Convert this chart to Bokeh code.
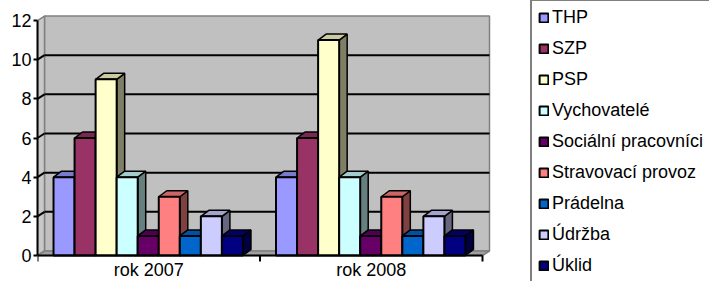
from bokeh.plotting import figure
from bokeh.models import LinearAxis, FixedTicker, Legend, LegendItem, Range1d
from bokeh.core.properties import value
from bokeh.embed import file_html
from bokeh.resources import INLINE

# ---- data ----
categories = ["rok 2007", "rok 2008"]
series = ["THP", "SZP", "PSP", "Vychovatelé", "Sociální pracovníci",
          "Stravovací provoz", "Prádelna", "Údržba", "Úklid"]
values_2007 = [4, 6, 9, 4, 1, 3, 1, 2, 1]
values_2008 = [4, 6, 11, 4, 1, 3, 1, 2, 1]
colors = ["#9999FF", "#993366", "#FFFFCC", "#CCFFFF", "#660066",
          "#FF8080", "#0066CC", "#CCCCFF", "#000080"]
y_ticks = [0, 2, 4, 6, 8, 10, 12]

values = [values_2007, values_2008]

# ---- layout constants ----
W, H = 709, 281
LEFT = 37
ZERO_PX = 255          # canvas row of value 0
PX_X = 222.5
PX_Y = 19.58
X_END = (W - LEFT) / PX_X
Y_START = -(H - ZERO_PX) / PX_Y
Y_END = ZERO_PX / PX_Y
bar_dx, bar_dy = 8 / PX_X, 6 / PX_Y
wall_dx, wall_dy = 7 / PX_X, 4.5 / PX_Y
tick_len = 6 / PX_Y
GROUP_START = 0.072
BAR_W = 0.0946
FONT = "Liberation Sans"


def shade(hex_color, f):
    h = hex_color.lstrip("#")
    r, g, b = (int(h[i:i + 2], 16) for i in (0, 2, 4))
    return "#%02x%02x%02x" % (int(r * f), int(g * f), int(b * f))


p = figure(width=W, height=H, x_range=Range1d(0, X_END), y_range=Range1d(Y_START, Y_END),
           output_backend="svg", toolbar_location=None,
           min_border_left=LEFT, min_border_bottom=0, min_border_top=0, min_border_right=0,
           x_axis_type=None, y_axis_type=None)
p.outline_line_color = None
p.background_fill_color = "white"
p.border_fill_color = "white"

ncat = len(categories)
ymax = y_ticks[-1]

# walls and floor
p.quad(left=wall_dx, right=ncat + wall_dx, bottom=wall_dy, top=ymax + wall_dy,
       fill_color="#c0c0c0", line_color="#808080", line_width=1.5)
p.patch([0, wall_dx, wall_dx, 0], [0, wall_dy, ymax + wall_dy, ymax],
        fill_color="#c8c8c8", line_color="#808080", line_width=1.5)
p.patch([0, ncat, ncat + wall_dx, wall_dx], [0, 0, wall_dy, wall_dy],
        fill_color="#a0a0a0", line_color="#808080", line_width=1.5)

# gridlines on back and side walls
gv = y_ticks[1:-1]
p.segment(x0=[wall_dx] * len(gv), y0=[v + wall_dy for v in gv],
          x1=[ncat + wall_dx] * len(gv), y1=[v + wall_dy for v in gv],
          line_color="black", line_width=2)
p.segment(x0=[0] * len(gv), y0=gv, x1=[wall_dx] * len(gv), y1=[v + wall_dy for v in gv],
          line_color="black", line_width=2)

# bar sides and tops (painter order: left to right)
xs, ys, fc = [], [], []
for c in range(ncat):
    for s in range(len(series)):
        v = values[c][s]
        x0 = c + GROUP_START + s * BAR_W
        x1 = x0 + BAR_W
        xs.append([x1, x1 + bar_dx, x1 + bar_dx, x1])
        ys.append([0, bar_dy, v + bar_dy, v])
        fc.append(shade(colors[s], 0.5))
        xs.append([x0, x0 + bar_dx, x1 + bar_dx, x1])
        ys.append([v, v + bar_dy, v + bar_dy, v])
        fc.append(shade(colors[s], 0.8))
p.patches(xs, ys, fill_color=fc, line_color="black", line_width=1.5)

# bar fronts
items = []
for s, name in enumerate(series):
    lefts = [c + GROUP_START + s * BAR_W for c in range(ncat)]
    rights = [l + BAR_W for l in lefts]
    tops = [values[c][s] for c in range(ncat)]
    r = p.quad(left=lefts, right=rights, bottom=0, top=tops,
               fill_color=colors[s], line_color="black", line_width=2)
    items.append(LegendItem(label=name, renderers=[r]))

# category axis (front edge of the floor)
p.segment(x0=[0], y0=[0], x1=[ncat], y1=[0], line_color="black", line_width=2)
bounds = list(range(ncat + 1))
p.segment(x0=bounds, y0=[0] * len(bounds), x1=bounds, y1=[-tick_len] * len(bounds),
          line_color="black", line_width=2)
p.text(x=[c + 0.5 for c in range(ncat)], y=[0] * ncat, text=categories,
       text_align="center", text_baseline="alphabetic", y_offset=14,
       text_font=value(FONT), text_font_size="18px", text_color="black")

# value axis
yaxis = LinearAxis(ticker=FixedTicker(ticks=y_ticks, minor_ticks=[]), bounds=(0, ymax),
                   axis_line_width=2, axis_line_color="black",
                   major_tick_line_width=2, major_tick_in=0, major_tick_out=4,
                   minor_tick_out=0, minor_tick_in=0,
                   major_label_standoff=2, major_label_text_font=FONT,
                   major_label_text_font_size="18px", major_label_text_color="black")
p.add_layout(yaxis, "left")

legend = Legend(items=items, location=(493, -3),
                glyph_width=11, glyph_height=11, label_standoff=3,
                label_height=21, spacing=10, padding=6, margin=0,
                label_text_font=FONT, label_text_font_size="18px", label_text_color="black",
                border_line_color="black", border_line_width=2,
                background_fill_color="white", background_fill_alpha=1)
p.add_layout(legend)

open("out.html", "w").write(file_html(p, INLINE))
